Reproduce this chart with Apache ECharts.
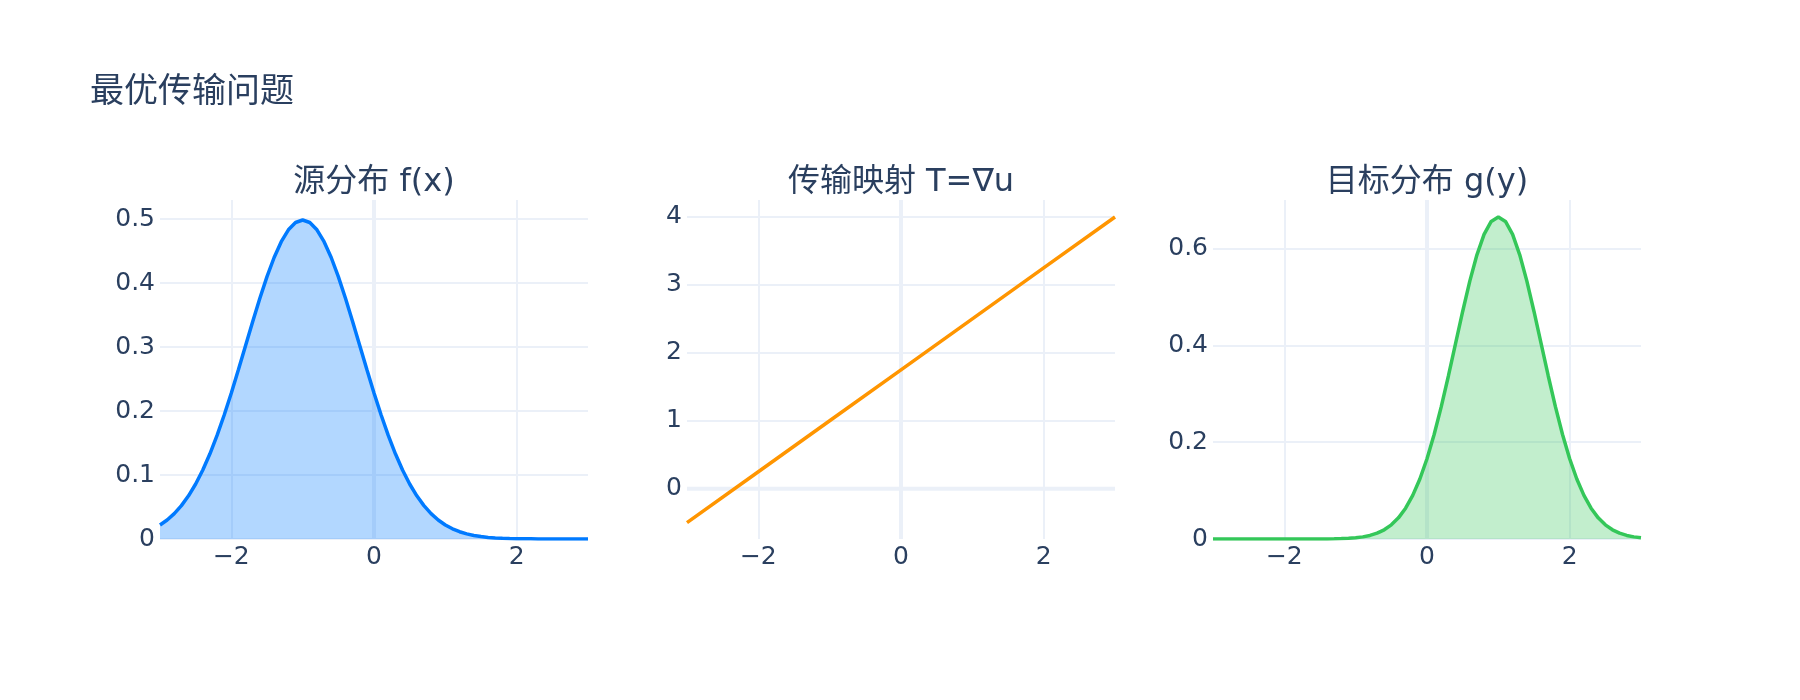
<!DOCTYPE html>
<html>
<head>
<meta charset="utf-8">
<script src="https://cdn.jsdelivr.net/npm/echarts@6/dist/echarts.min.js"></script>
<style>
  html, body { margin: 0; padding: 0; background: #fff; }
  #main { width: 1800px; height: 700px; }
</style>
</head>
<body>
<div id="main"></div>
<script>
// x grid shared by both densities (-3 .. 3, step 0.1)
var xs = [-3.0,-2.9,-2.8,-2.7,-2.6,-2.5,-2.4,-2.3,-2.2,-2.1,
          -2.0,-1.9,-1.8,-1.7,-1.6,-1.5,-1.4,-1.3,-1.2,-1.1,
          -1.0,-0.9,-0.8,-0.7,-0.6,-0.5,-0.4,-0.3,-0.2,-0.1,
           0.0, 0.1, 0.2, 0.3, 0.4, 0.5, 0.6, 0.7, 0.8, 0.9,
           1.0, 1.1, 1.2, 1.3, 1.4, 1.5, 1.6, 1.7, 1.8, 1.9,
           2.0, 2.1, 2.2, 2.3, 2.4, 2.5, 2.6, 2.7, 2.8, 2.9, 3.0];

// 源分布 f(x)
var sourceVals = [0.0219,0.0297,0.0397,0.0522,0.0675,0.0860,0.1079,0.1332,0.1619,0.1938,
                  0.2283,0.2649,0.3025,0.3401,0.3764,0.4102,0.4401,0.4648,0.4834,0.4948,
                  0.4987,0.4948,0.4834,0.4648,0.4401,0.4102,0.3764,0.3401,0.3025,0.2649,
                  0.2283,0.1938,0.1619,0.1332,0.1079,0.0860,0.0675,0.0522,0.0397,0.0297,
                  0.0219,0.0159,0.0114,0.0080,0.0055,0.0038,0.0025,0.0017,0.0011,0.0007,
                  0.0004,0.0003,0.0002,0.0001,0.0001,0,0,0,0,0,0];

// 目标分布 g(y)
var targetVals = [0,0,0,0,0,0,0,0,0,0,
                  0,0,0,0,0,0,0.0002,0.0004,0.0008,0.0015,
                  0.0026,0.0044,0.0074,0.0120,0.0190,0.0292,0.0437,0.0636,0.0900,0.1239,
                  0.1658,0.2159,0.2733,0.3366,0.4033,0.4698,0.5324,0.5868,0.6290,0.6557,
                  0.6649,0.6557,0.6290,0.5868,0.5324,0.4698,0.4033,0.3366,0.2733,0.2159,
                  0.1658,0.1239,0.0900,0.0636,0.0437,0.0292,0.0190,0.0120,0.0074,0.0044,0.0026];

// 传输映射 T
var mapX = [-3, -2, -1, 0, 1, 2, 3];
var mapVals = [-0.5, 0.25, 1, 1.75, 2.5, 3.25, 4];

var subTitles = ['源分布 f(x)', '传输映射 T=∇u', '目标分布 g(y)'];

// axis ranges per panel
var xRange = [-3, 3];
var yRanges = [[0, 0.53], [-0.74, 4.25], [0, 0.70]];

var textColor = '#2a3f5f';
var gridColor = '#EBF0F8';
var fontStack = '"DejaVu Sans", "Noto Sans CJK SC", sans-serif';

function zip(a, b) {
    return a.map(function (v, i) { return [v, b[i]]; });
}
function fmt(v) {
    return String(+v.toFixed(4)).replace('-', '\u2212');
}

var lefts = [160, 687, 1213];
var gridW = 428;

var grids = lefts.map(function (l) {
    return { left: l, top: 200, width: gridW, height: 339 };
});

function xAxisFor(i) {
    return {
        gridIndex: i, type: 'value', min: xRange[0], max: xRange[1], splitNumber: 3,
        axisLine: { show: false }, axisTick: { show: false },
        axisLabel: { color: textColor, fontSize: 25, fontFamily: fontStack, margin: 6,
                     showMinLabel: false, showMaxLabel: false, formatter: fmt },
        splitLine: { show: true, showMinLine: false, showMaxLine: false,
                     lineStyle: { color: gridColor, width: 2 } }
    };
}
function yAxisFor(i, split) {
    var min = yRanges[i][0];
    return {
        gridIndex: i, type: 'value', min: min, max: yRanges[i][1], splitNumber: split,
        axisLine: { show: false }, axisTick: { show: false },
        axisLabel: { color: textColor, fontSize: 25, fontFamily: fontStack, margin: 5,
                     showMinLabel: min === 0, showMaxLabel: false, formatter: fmt },
        splitLine: { show: true, showMinLine: min === 0, showMaxLine: false,
                     lineStyle: { color: gridColor, width: 2 } }
    };
}

// zero lines, drawn under the data
function zeroLine(i, pts) {
    return {
        type: 'line', xAxisIndex: i, yAxisIndex: i, z: 1, silent: true,
        data: pts, showSymbol: false,
        lineStyle: { color: gridColor, width: 4 }
    };
}

var chart = echarts.init(document.getElementById('main'));

var option = {
    backgroundColor: '#fff',
    animation: false,
    title: [{
        text: '最优传输问题', left: 90, top: 76, padding: 0,
        textStyle: { color: textColor, fontSize: 34, fontWeight: 'normal', fontFamily: fontStack }
    }].concat(subTitles.map(function (t, i) {
        return {
            text: t, left: lefts[i] + gridW / 2, top: 167, textAlign: 'center', padding: 0,
            textStyle: { color: textColor, fontSize: 32, fontWeight: 'normal', fontFamily: fontStack }
        };
    })),
    grid: grids,
    xAxis: [xAxisFor(0), xAxisFor(1), xAxisFor(2)],
    yAxis: [yAxisFor(0, 5), yAxisFor(1, 5), yAxisFor(2, 3)],
    series: [
        zeroLine(0, [[0, yRanges[0][0]], [0, yRanges[0][1]]]),
        zeroLine(1, [[0, yRanges[1][0]], [0, yRanges[1][1]]]),
        zeroLine(1, [[xRange[0], 0], [xRange[1], 0]]),
        zeroLine(2, [[0, yRanges[2][0]], [0, yRanges[2][1]]]),
        {
            type: 'line', xAxisIndex: 0, yAxisIndex: 0, z: 3,
            data: zip(xs, sourceVals), showSymbol: false,
            lineStyle: { color: '#007AFF', width: 3.5 },
            itemStyle: { color: '#007AFF' },
            areaStyle: { color: 'rgba(0,122,255,0.3)', opacity: 1 }
        },
        {
            type: 'line', xAxisIndex: 1, yAxisIndex: 1, z: 3,
            data: zip(mapX, mapVals), showSymbol: false,
            lineStyle: { color: '#FF9500', width: 3.5 },
            itemStyle: { color: '#FF9500' }
        },
        {
            type: 'line', xAxisIndex: 2, yAxisIndex: 2, z: 3,
            data: zip(xs, targetVals), showSymbol: false,
            lineStyle: { color: '#34C759', width: 3.5 },
            itemStyle: { color: '#34C759' },
            areaStyle: { color: 'rgba(52,199,89,0.3)', opacity: 1 }
        }
    ]
};

chart.setOption(option);
</script>
</body>
</html>
